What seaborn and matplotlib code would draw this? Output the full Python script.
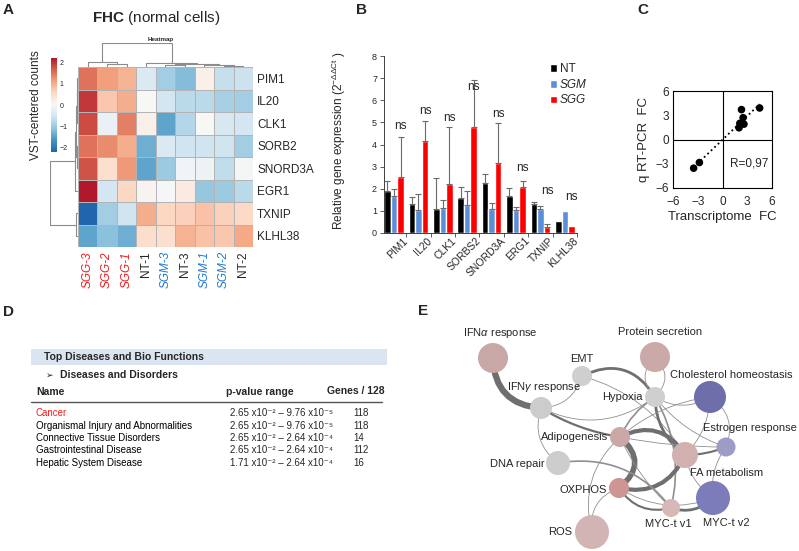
import numpy as np
import pandas as pd
import matplotlib
matplotlib.use("Agg")
import matplotlib.pyplot as plt
import matplotlib.transforms as mtransforms
import seaborn as sns
from matplotlib.colors import LinearSegmentedColormap
from matplotlib.patches import FancyArrowPatch, Rectangle
from matplotlib.lines import Line2D

# ---------------- A: heatmap ----------------
hm_genes = ["PIM1", "IL20", "CLK1", "SORB2", "SNORD3A", "EGR1", "TXNIP", "KLHL38"]
hm_samples = ["SGG-3", "SGG-2", "SGG-1", "NT-1", "SGM-3", "NT-3", "SGM-1", "SGM-2", "NT-2"]
hm_values = [
    [1.50, 1.15, 0.95, -0.40, -0.95, -1.20, 0.15, -0.65, -0.60],
    [1.95, 0.75, 1.00, 0.00, -0.50, -0.75, -0.75, -0.90, -0.95],
    [1.80, -0.20, 1.40, 0.15, -1.45, -0.80, 0.00, -0.45, -0.50],
    [1.50, 1.30, 1.00, -1.35, -0.40, -0.55, -0.55, -0.55, -0.95],
    [1.75, 0.45, 1.20, -1.45, -1.00, -0.10, -0.15, -0.70, -0.05],
    [2.25, -0.50, 0.60, 0.08, -0.03, 0.25, -1.05, -1.00, -0.75],
    [-2.20, -0.95, -0.55, 1.00, 0.60, 0.65, 0.80, 0.65, 0.55],
    [-1.45, -1.15, -1.35, 0.50, 0.45, 0.95, 0.80, 0.75, 1.05],
]
# dendrogram merges (child a, child b, height); leaves 0..n-1, new clusters numbered n, n+1, ...
col_merges = [(1, 2, 0.11), (0, 9, 0.22), (4, 5, 0.07), (7, 8, 0.04),
              (6, 12, 0.08), (11, 13, 0.12), (3, 14, 0.18), (10, 15, 1.0)]
row_merges = [(0, 1, 0.04), (8, 2, 0.05), (3, 4, 0.04), (9, 10, 0.07),
              (11, 5, 0.09), (6, 7, 0.06), (12, 13, 1.0)]

# ---------------- B: qRT-PCR bars ----------------
qpcr_genes = ["PIM1", "IL20", "CLK1", "SORBS2", "SNORD3A", "ERG1", "TXNIP", "KLHL38"]
groups = ["NT", "SGM", "SGG"]
nt_mean = [1.92, 1.30, 1.10, 1.60, 2.28, 1.65, 1.32, 0.56]
nt_top = [2.37, 1.62, 2.48, 2.10, 2.68, 2.03, 1.41, 0.56]
sgm_mean = [1.65, 1.03, 1.15, 1.27, 1.10, 1.02, 1.08, 1.00]
sgm_top = [1.98, 1.77, 1.50, 1.90, 1.37, 1.18, 1.20, 1.00]
sgg_mean = [2.52, 4.17, 2.20, 4.77, 3.15, 2.10, 0.26, 0.33]
sgg_top = [4.35, 5.05, 4.80, 6.93, 4.98, 2.35, 0.40, 0.33]
ns_height = [4.82, 5.50, 5.18, 6.60, 5.40, 2.95, 1.92, 1.64]

# ---------------- C: correlation ----------------
fc_transcriptome = [4.5, 2.3, 2.5, 2.1, 2.6, 2.0, -3.5, -2.8]
fc_qpcr = [3.9, 3.7, 2.7, 2.0, 1.9, 1.45, -3.55, -2.85]

# ---------------- D: IPA table ----------------
disease_names = ["Cancer", "Organismal Injury and Abnormalities", "Connective Tissue Disorders",
                 "Gastrointestinal Disease", "Hepatic System Disease"]
p_high = [2.65, 2.65, 2.65, 2.65, 1.71]
p_high_exp = [-2, -2, -2, -2, -2]
p_low = [9.76, 9.76, 2.64, 2.64, 2.64]
p_low_exp = [-5, -5, -4, -4, -4]
n_genes = [118, 118, 14, 112, 16]

# ---------------- E: hallmark network ----------------
node_names = ["IFNa", "Protein", "EMT", "IFNg", "Hypoxia", "Cholesterol", "Estrogen",
              "Adipogenesis", "FA", "DNA", "OXPHOS", "MYC1", "MYC2", "ROS"]
node_labels = [r"IFN$\mathit{\alpha}$ response", "Protein secretion", "EMT", r"IFN$\mathit{\gamma}$ response",
               "Hypoxia", "Cholesterol homeostasis", "Estrogen response", "Adipogenesis",
               "FA metabolism", "DNA repair", "OXPHOS", "MYC-t v1", "MYC-t v2", "ROS"]
node_x = [493, 655, 582, 541, 655, 710, 726, 620, 685, 558, 619, 671, 713, 592]
node_y = [358, 357, 376, 408, 397, 397, 447, 437, 455, 463, 488, 508, 498, 532]
node_r = [15, 15, 10, 11, 10, 16, 9.5, 10, 13, 12, 10, 9, 17, 17]
node_colors = ["#c9a7a7", "#cba9a9", "#cfcfcf", "#cccccc", "#cfcfcf", "#6e6eab", "#9c9cc7",
               "#cba8a8", "#d2b0b0", "#cdcdcd", "#cf9494", "#d6b8b8", "#7c7cbb", "#d2b4b4"]
label_dx = [7, 5, 0, 3, -12, 21, 71, -12, 42, -13, -12, -3, 13, -20]
label_dy = [-25, -25, -17, -21, 0, -22, -19, 0, 18, 1, 2, 16, 25, 0]
label_ha = ["center", "center", "center", "center", "right", "center", "right", "right",
            "center", "right", "right", "center", "center", "right"]
edges = [
    ("IFNa", "IFNg", 4.5, 0.45), ("IFNg", "EMT", 0.6, 0.35), ("EMT", "Hypoxia", 2.0, -0.45),
    ("EMT", "FA", 0.6, -0.2), ("Protein", "Hypoxia", 0.6, 0.5), ("Protein", "Hypoxia", 0.6, -0.5),
    ("IFNg", "Adipogenesis", 1.6, 0.1), ("IFNg", "DNA", 0.6, 0.35), ("Hypoxia", "Adipogenesis", 1.2, 0.15),
    ("Hypoxia", "FA", 2.0, 0.25), ("Hypoxia", "Cholesterol", 0.6, 0.3), ("Hypoxia", "Estrogen", 0.6, 0.15),
    ("Hypoxia", "MYC1", 1.2, -0.2), ("Hypoxia", "IFNg", 0.6, -0.3), ("Adipogenesis", "OXPHOS", 4.0, -0.6),
    ("Adipogenesis", "FA", 3.0, -0.45), ("FA", "OXPHOS", 3.0, -0.4), ("FA", "Estrogen", 1.5, 0.1),
    ("FA", "Cholesterol", 0.6, 0.2), ("Estrogen", "Cholesterol", 0.6, 0.4), ("Estrogen", "MYC2", 0.6, 0.2),
    ("MYC1", "MYC2", 2.0, 0.3), ("OXPHOS", "MYC1", 1.5, 0.35), ("OXPHOS", "MYC2", 0.6, 0.25),
    ("DNA", "MYC1", 1.2, -0.3), ("ROS", "OXPHOS", 0.6, -0.4), ("ROS", "Adipogenesis", 0.6, -0.3),
    ("Adipogenesis", "Cholesterol", 0.6, -0.15), ("Adipogenesis", "MYC1", 0.6, 0.1),
    ("FA", "MYC2", 0.6, 0.2), ("Adipogenesis", "Estrogen", 0.6, 0.05),
]

# ---------------- style ----------------
sns.set_style("white")
plt.rcParams["font.family"] = ["Liberation Sans", "DejaVu Sans"]
plt.rcParams["mathtext.fontset"] = "custom"
plt.rcParams["mathtext.rm"] = "Liberation Sans"
plt.rcParams["mathtext.it"] = "Liberation Sans:italic"
plt.rcParams["mathtext.bf"] = "Liberation Sans:bold"
plt.rcParams["mathtext.default"] = "regular"

W, H = 799, 551
fig = plt.figure(figsize=(W / 100, H / 100), dpi=100)


def px_box(x0, y0, x1, y1):
    return [x0 / W, 1 - y1 / H, (x1 - x0) / W, (y1 - y0) / H]


def ptext(x, y, s, **kw):
    return fig.text(x / W, 1 - y / H, s, **kw)


SUP = str.maketrans("-0123456789", "\u207b\u2070\u00b9\u00b2\u00b3\u2074\u2075\u2076\u2077\u2078\u2079")


def draw_dendro(ax, merges, n, orient):
    pos = {i: i + 0.5 for i in range(n)}
    hgt = {i: 0.0 for i in range(n)}
    for k, (a, b, h) in enumerate(merges):
        p = [pos[a], pos[a], pos[b], pos[b]]
        q = [hgt[a], h, h, hgt[b]]
        if orient == "top":
            ax.plot(p, q, color="#8c8c8c", lw=0.8)
        else:
            ax.plot(q, p, color="#8c8c8c", lw=0.8)
        pos[n + k] = (pos[a] + pos[b]) / 2
        hgt[n + k] = h
    if orient == "top":
        ax.set_xlim(0, n)
        ax.set_ylim(0, 1.0)
    else:
        ax.set_ylim(n, 0)
        ax.set_xlim(1.0, 0)
    ax.axis("off")


# ---------------- panel A ----------------
ptext(3, 10, "A", fontsize=11, fontweight="bold", va="center")
ptext(156, 18, r"$\mathbf{FHC}$ (normal cells)", fontsize=11, ha="center", va="center")
ptext(161, 39, "Heatmap", fontsize=4.5, fontweight="bold", ha="center", va="center")

rdbu9 = ["#2166ac", "#4393c3", "#92c5de", "#d1e5f0", "#f7f7f7",
         "#fddbc7", "#f4a582", "#d6604d", "#b2182b"]
cmap = LinearSegmentedColormap.from_list("rdbu9", rdbu9)
hm_df = pd.DataFrame(hm_values, index=hm_genes, columns=hm_samples)

axH = fig.add_axes(px_box(78, 67, 253, 247))
axCb = fig.add_axes(px_box(51, 58, 57, 152))
sns.heatmap(hm_df, ax=axH, cmap=cmap, vmin=-2.2, vmax=2.2, cbar_ax=axCb,
            cbar_kws={"ticks": [-2, -1, 0, 1, 2]}, linewidths=0.6, linecolor="#b4b4b4",
            xticklabels=True, yticklabels=True)
axH.yaxis.tick_right()
axH.tick_params(axis="y", length=0, pad=3, labelsize=8.5, rotation=0)
axH.tick_params(axis="x", length=0, pad=3, labelsize=8.5, rotation=90)
axH.set_xlabel("")
axH.set_ylabel("")
for lab in axH.get_xticklabels():
    t = lab.get_text()
    if t.startswith("SGG"):
        lab.set_color("#ee1c1c")
        lab.set_fontstyle("italic")
    elif t.startswith("SGM"):
        lab.set_color("#1f78d0")
        lab.set_fontstyle("italic")
axCb.tick_params(length=0, labelsize=5, pad=2)
axH.collections[0].colorbar.outline.set_visible(False)
ptext(36, 105, "VST-centered counts", fontsize=8.5, rotation=90, ha="center", va="center")

axCD = fig.add_axes(px_box(78, 43, 253, 67))
draw_dendro(axCD, col_merges, len(hm_samples), "top")
axRD = fig.add_axes(px_box(50, 67, 78, 247))
draw_dendro(axRD, row_merges, len(hm_genes), "left")

# ---------------- panel B ----------------
ptext(356, 10, "B", fontsize=11, fontweight="bold", va="center")
bar_df = pd.DataFrame({
    "gene": qpcr_genes * 3,
    "group": [g for g in groups for _ in qpcr_genes],
    "value": nt_mean + sgm_mean + sgg_mean,
})
bar_colors = {"NT": "#000000", "SGM": "#5a8ed6", "SGG": "#ff0000"}
axB = fig.add_axes(px_box(384, 56, 577, 233))
sns.barplot(data=bar_df, x="gene", y="value", hue="group", order=qpcr_genes, hue_order=groups,
            palette=bar_colors, saturation=1, errorbar=None, width=0.8, ax=axB)
tops = [nt_top, sgm_top, sgg_top]
means = [nt_mean, sgm_mean, sgg_mean]
bar_containers = list(axB.containers)[:3]
sgg_x = []
for j, cont in enumerate(bar_containers):
    xs = [b.get_x() + b.get_width() / 2 for b in cont]
    if j == 2:
        sgg_x = xs
    keep = [i for i in range(len(xs)) if tops[j][i] > means[j][i]]
    m = np.array([means[j][i] for i in keep])
    t = np.array([tops[j][i] for i in keep])
    axB.errorbar([xs[i] for i in keep], m, yerr=[np.zeros_like(m), t - m], fmt="none",
                 ecolor="#6a6a6a", elinewidth=0.8, capsize=2, capthick=0.8, zorder=1)
for i in range(len(qpcr_genes)):
    axB.text(sgg_x[i], ns_height[i], "ns", ha="center", va="center", fontsize=8.5)
axB.set_xlim(-0.41, 7.47)
axB.set_ylim(0, 8)
axB.set_yticks(range(9))
axB.set_xticks(range(8))
axB.set_xticklabels(qpcr_genes, rotation=45, ha="right", va="top", rotation_mode="anchor")
axB.set_xticks(np.arange(8) + 0.5, minor=True)
axB.tick_params(axis="x", which="major", length=0, labelsize=7.5, pad=2)
axB.tick_params(axis="x", which="minor", length=3, width=0.6, direction="out", bottom=True, color="#404040")
axB.tick_params(axis="y", length=3, width=0.6, direction="out", left=True, labelsize=6.5, pad=2, color="#404040")
off = mtransforms.ScaledTranslation(6 / 72, 0, fig.dpi_scale_trans)
for lab in axB.get_xticklabels():
    lab.set_transform(lab.get_transform() + off)
for s in ["top", "right"]:
    axB.spines[s].set_visible(False)
for s in ["left", "bottom"]:
    axB.spines[s].set_color("#404040")
    axB.spines[s].set_linewidth(0.7)
axB.set_xlabel("")
axB.set_ylabel(r"Relative gene expression (2$^{-\Delta\Delta Ct}$ )", fontsize=8.5)
axB.yaxis.set_label_coords(-0.187, 0.52)
handles, labels = axB.get_legend_handles_labels()
leg = axB.legend(handles[:3], labels[:3], loc="upper left", bbox_to_anchor=(0.834, 0.985), frameon=False,
                 fontsize=8.5, handlelength=0.6, handleheight=0.6, handletextpad=0.25,
                 labelspacing=0.3, borderaxespad=0)
for txt in leg.get_texts():
    if txt.get_text() != "NT":
        txt.set_fontstyle("italic")

# ---------------- panel C ----------------
ptext(637, 10, "C", fontsize=11, fontweight="bold", va="center")
axC = fig.add_axes(px_box(673, 91, 772, 188))
axC.axhline(0, color="black", lw=0.8, zorder=1)
axC.axvline(0, color="black", lw=0.8, zorder=1)
sns.regplot(x=fc_transcriptome, y=fc_qpcr, scatter=False, ci=None, color="black",
            line_kws={"ls": ":", "lw": 1.3}, ax=axC)
sns.scatterplot(x=fc_transcriptome, y=fc_qpcr, color="black", s=30, edgecolor="none", ax=axC, zorder=3)
axC.set_xlim(-6, 6)
axC.set_ylim(-6, 6)
axC.set_xticks([-6, -3, 0, 3, 6])
axC.set_yticks([-6, -3, 0, 3, 6])
axC.tick_params(axis="both", length=0, labelsize=8.5)
axC.tick_params(axis="x", pad=6)
axC.tick_params(axis="y", pad=3)
for s in axC.spines.values():
    s.set_color("black")
    s.set_linewidth(0.8)
axC.text(3.2, -3.0, "R=0,97", fontsize=8.5, ha="center", va="center")
axC.set_xlabel("Transcriptome  FC", fontsize=9.5, labelpad=2)
axC.set_ylabel("q RT-PCR  FC", fontsize=9.5, labelpad=4)

# ---------------- panel D ----------------
ptext(3, 312, "D", fontsize=11, fontweight="bold", va="center")
fig.add_artist(Rectangle((31 / W, 1 - 365 / H), (387 - 31) / W, 16 / H, transform=fig.transFigure,
                         facecolor="#dbe5f1", edgecolor="none", zorder=0))
ptext(44, 357, "Top Diseases and Bio Functions", fontsize=7.5, fontweight="bold", va="center")
ptext(46, 375.5, "\u27a2", fontsize=6.5, va="center")
ptext(60, 375.5, "Diseases and Disorders", fontsize=7.5, fontweight="bold", va="center")
ptext(36, 392, "Name", fontsize=7.5, fontweight="bold", va="center")
ptext(226, 392, "p-value range", fontsize=7.5, fontweight="bold", va="center")
ptext(327, 391, "Genes / 128", fontsize=7.5, fontweight="bold", va="center")
fig.add_artist(Line2D([31 / W, 382 / W], [1 - 402 / H] * 2, transform=fig.transFigure, color="#555555", lw=1.0))
for i, name in enumerate(disease_names):
    y = 413.5 + i * 12.3
    ptext(36, y, name, fontsize=7, va="center", color="#ff1a1a" if i == 0 else "black")
    pv = (f"{p_high[i]:.2f} x10{str(p_high_exp[i]).translate(SUP)} \u2013 "
          f"{p_low[i]:.2f} x10{str(p_low_exp[i]).translate(SUP)}")
    ptext(230, y, pv, fontsize=7, va="center")
    ptext(353, y, str(n_genes[i]), fontsize=7, va="center")

# ---------------- panel E ----------------
ptext(418, 311, "E", fontsize=11, fontweight="bold", va="center")
axE = fig.add_axes(px_box(440, 320, 799, 551))
axE.patch.set_alpha(0)
idx = {n: i for i, n in enumerate(node_names)}
for a, b, lw, rad in edges:
    ia, ib = idx[a], idx[b]
    col = "#6f6f6f" if lw >= 1.5 else "#8f8f8f"
    e = FancyArrowPatch((node_x[ia], node_y[ia]), (node_x[ib], node_y[ib]), arrowstyle="-",
                        connectionstyle=f"arc3,rad={rad}", lw=lw, color=col,
                        shrinkA=0, shrinkB=0, zorder=1)
    axE.add_patch(e)
node_df = pd.DataFrame({"name": node_names, "x": node_x, "y": node_y})
sizes = {n: (1.44 * r) ** 2 for n, r in zip(node_names, node_r)}
sns.scatterplot(data=node_df, x="x", y="y", hue="name", size="name", palette=dict(zip(node_names, node_colors)),
                sizes=sizes, legend=False, edgecolor="none", ax=axE, zorder=3)
axE.set_xlim(440, 799)
axE.set_ylim(551, 320)
axE.set_xlabel("")
axE.set_ylabel("")
axE.axis("off")
for i, lab in enumerate(node_labels):
    axE.text(node_x[i] + label_dx[i], node_y[i] + label_dy[i], lab, fontsize=8,
             ha=label_ha[i], va="center", zorder=4)

fig.savefig("out.png", dpi=100)
